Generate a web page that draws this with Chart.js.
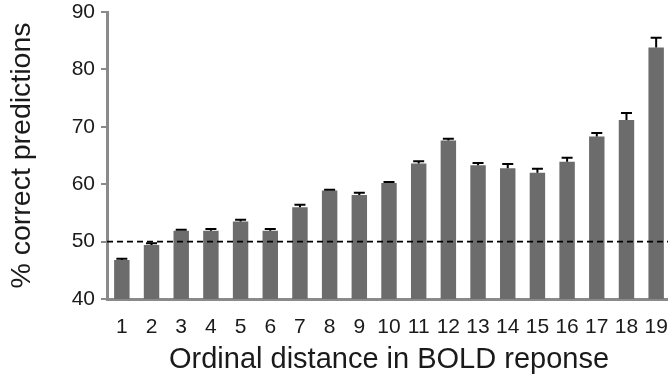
<!DOCTYPE html>
<html>
<head>
<meta charset="utf-8">
<script src="https://cdn.jsdelivr.net/npm/chart.js@4/dist/chart.umd.min.js"></script>
<style>
  html, body { margin: 0; padding: 0; background: #fff; overflow: hidden; }
</style>
</head>
<body>
<canvas id="myChart" width="671" height="379"></canvas>
<script>
const labels = ['1', '2', '3', '4', '5', '6', '7', '8', '9', '10', '11', '12', '13', '14', '15', '16', '17', '18', '19'];
const correct = [46.8, 49.4, 51.9, 51.9, 53.5, 51.9, 56.0, 58.9, 58.1, 60.2, 63.6, 67.6, 63.3, 62.8, 62.0, 63.9, 68.3, 71.2, 83.8];
const stdErr = [0.2, 0.3, 0.15, 0.3, 0.3, 0.3, 0.4, 0.15, 0.4, 0.2, 0.4, 0.3, 0.4, 0.7, 0.7, 0.7, 0.6, 1.2, 1.7];
const chance = 50;

const textColor = '#1a1a1a';
const axisColor = '#8a8a8a';

// upper error bars + dashed chance line
const extras = {
  id: 'extras',
  afterDatasetsDraw(chart) {
    const ctx = chart.ctx;
    const y = chart.scales.y;
    const area = chart.chartArea;
    const meta = chart.getDatasetMeta(0);

    ctx.save();
    ctx.strokeStyle = '#000';
    ctx.lineWidth = 2;
    meta.data.forEach((bar, i) => {
      const top = y.getPixelForValue(correct[i] + stdErr[i]);
      ctx.beginPath();
      ctx.moveTo(bar.x, bar.y);
      ctx.lineTo(bar.x, top);
      ctx.moveTo(bar.x - 5.5, top);
      ctx.lineTo(bar.x + 5.5, top);
      ctx.stroke();
    });

    const yc = y.getPixelForValue(chance);
    ctx.lineWidth = 1.6;
    ctx.setLineDash([6, 4]);
    ctx.beginPath();
    ctx.moveTo(area.left, yc);
    ctx.lineTo(area.right, yc);
    ctx.stroke();
    ctx.restore();
  }
};

const config = {
  type: 'bar',
  data: {
    labels: labels,
    datasets: [{
      data: correct,
      backgroundColor: '#6c6c6c',
      borderWidth: 0,
      barPercentage: 0.52,
      categoryPercentage: 1.0
    }]
  },
  options: {
    responsive: false,
    animation: false,
    layout: { padding: { top: 12, right: 0, bottom: 0, left: 0 } },
    plugins: {
      legend: { display: false },
      tooltip: { enabled: false }
    },
    scales: {
      x: {
        grid: { display: false, drawTicks: false },
        border: { display: true, color: axisColor, width: 3 },
        ticks: {
          color: textColor,
          font: { family: 'Liberation Sans', size: 21 },
          padding: 16,
          maxRotation: 0,
          autoSkip: false
        },
        title: {
          display: true,
          text: 'Ordinal distance in BOLD reponse',
          color: textColor,
          font: { family: 'Liberation Sans', size: 29 },
          padding: { top: 0, bottom: 2 }
        },
        afterFit(scale) {
          scale.height = 80;
          scale.paddingLeft = 0;
          scale.paddingRight = 0;
        }
      },
      y: {
        min: 40,
        max: 90,
        grid: { drawOnChartArea: false, drawTicks: true, tickLength: 6, color: axisColor, lineWidth: 2 },
        border: { display: true, color: axisColor, width: 3 },
        ticks: {
          stepSize: 10,
          color: textColor,
          font: { family: 'Liberation Sans', size: 21 },
          padding: 6
        },
        title: {
          display: true,
          text: '% correct predictions',
          color: textColor,
          font: { family: 'Liberation Sans', size: 28.5 },
          padding: { top: 5, bottom: 0 }
        },
        afterFit(scale) {
          scale.width = 107;
          scale.paddingTop = 0;
          scale.paddingBottom = 0;
        }
      }
    }
  },
  plugins: [extras]
};

var ctx = document.getElementById('myChart').getContext('2d');

var chart = new Chart(ctx, config);
</script>
</body>
</html>
